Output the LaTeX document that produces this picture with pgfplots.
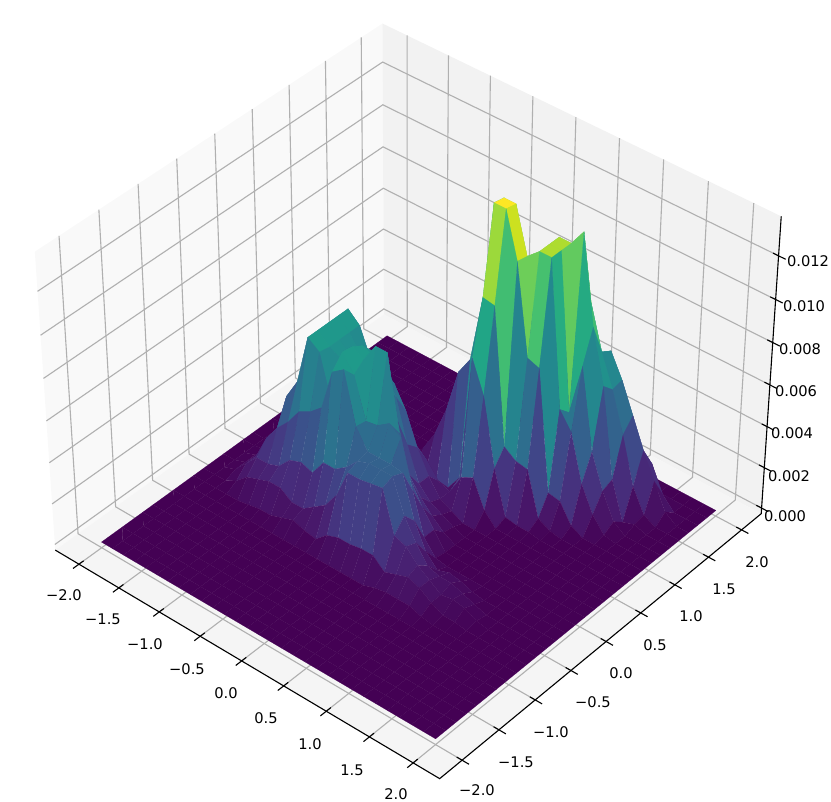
\documentclass[border=0pt]{standalone}
\usepackage{fontspec}
\setmainfont{DejaVu Sans}
\usepackage{pgfplots}
\pgfplotsset{compat=1.18}
\def\MS{0.7604}\def\MC{0.6494}\def\SE{0.629}\def\CE{0.777}
\def\SC{4325}\def\CX{410}\def\CY{387}
\definecolor{gridc}{rgb}{0.69,0.69,0.69}
\newcommand\pline[2]{\addplot[#1] table[row sep=\\,header=false,
 x expr={px(\thisrowno{0},\thisrowno{1},\thisrowno{2})},
 y expr={py(\thisrowno{0},\thisrowno{1},\thisrowno{2})}]{#2};}
\newcommand\lab[3]{\node[font=\fontsize{11}{13}\selectfont,inner sep=0pt,anchor=center] at (axis cs:#1,#2) {#3};}
\begin{document}
\begin{tikzpicture}
\begin{axis}[scale only axis,width=623.25pt,height=601.5pt,xmin=0,xmax=831,ymin=0,ymax=802,y dir=reverse,
 hide axis,clip=false,
 every axis plot/.append style={mark=none,forget plot},
 declare function={
  Tf(\x,\y)=0.2587*(\MC*\x-\MS*\y);
  Uf(\x,\y)=0.2587*(\MS*\x+\MC*\y);
  Zf(\z)=0.0063*(\z-67.5);
  Vf(\x,\y,\z)=-\SE*Tf(\x,\y)+\CE*Zf(\z);
  Df(\x,\y,\z)=10-(\CE*Tf(\x,\y)+\SE*Zf(\z));
  px(\x,\y,\z)=\CX+\SC*Uf(\x,\y)/Df(\x,\y,\z);
  py(\x,\y,\z)=\CY-\SC*Vf(\x,\y,\z)/Df(\x,\y,\z);
 }]
% panes
\pline{fill={rgb,1:red,0.975;green,0.975;blue,0.975},draw=none}{-2.3 -2.3 -2.8\\-2.3 2.3 -2.8\\-2.3 2.3 137.8\\-2.3 -2.3 137.8\\}
\pline{fill={rgb,1:red,0.95;green,0.95;blue,0.95},draw=none}{-2.3 2.3 -2.8\\2.3 2.3 -2.8\\2.3 2.3 137.8\\-2.3 2.3 137.8\\}
\pline{fill={rgb,1:red,0.9625;green,0.9625;blue,0.9625},draw=none}{-2.3 -2.3 -2.8\\2.3 -2.3 -2.8\\2.3 2.3 -2.8\\-2.3 2.3 -2.8\\}
% grid
\pgfplotsinvokeforeach{-2,-1.5,-1,-0.5,0,0.5,1,1.5,2}{
 \pline{gridc,line width=0.83pt}{#1 -2.3 -2.8\\#1 2.3 -2.8\\#1 2.3 137.8\\}
 \pline{gridc,line width=0.83pt}{2.3 #1 -2.8\\-2.3 #1 -2.8\\-2.3 #1 137.8\\}
}
\pgfplotsinvokeforeach{0,20,40,60,80,100,120}{
 \pline{gridc,line width=0.83pt}{2.3 2.3 #1\\-2.3 2.3 #1\\-2.3 -2.3 #1\\}
}
% surface: z in units of 1e-4, rows y=2..-2, columns x=-2..2
\addplot[surf,shader=faceted,faceted color={mapped color!98!white},line width=0.1pt,colormap/viridis,mesh/rows=30,mesh/cols=30,point meta=\thisrowno{0},point meta min=0,point meta max=134]
 table[row sep=\\,header=false,
 x expr={px(-2+mod(\coordindex,30)*4/29,-2+(29-floor(\coordindex/30))*4/29,\thisrowno{0})},
 y expr={py(-2+mod(\coordindex,30)*4/29,-2+(29-floor(\coordindex/30))*4/29,\thisrowno{0})}]{
0\\0\\0\\0\\0\\0\\0\\0\\0\\0\\0\\0\\0\\0\\0\\0\\0\\0\\0\\0\\0\\0\\0\\0\\0\\0\\0\\0\\0\\0\\
0\\0\\0\\0\\0\\0\\0\\0\\0\\0\\0\\0\\0\\0\\0\\3\\6\\10\\12\\12\\12\\10\\8\\5\\2\\0\\0\\0\\0\\0\\
0\\0\\0\\0\\0\\0\\0\\0\\0\\0\\0\\0\\0\\0\\5\\12\\22\\32\\40\\40\\40\\35\\30\\25\\20\\18\\6\\0\\0\\0\\
0\\0\\0\\0\\0\\0\\0\\0\\0\\0\\0\\0\\0\\6\\15\\30\\45\\60\\65\\70\\70\\63\\67\\56\\42\\28\\16\\4\\0\\0\\
0\\0\\0\\0\\0\\0\\0\\0\\0\\0\\0\\0\\0\\15\\30\\50\\70\\80\\80\\90\\95\\90\\70\\55\\36\\14\\3\\0\\0\\0\\
0\\0\\0\\0\\0\\0\\0\\0\\0\\0\\0\\0\\6\\25\\45\\60\\90\\90\\90\\118\\118\\126\\85\\60\\18\\0\\2\\0\\0\\0\\
0\\0\\0\\0\\0\\0\\0\\0\\0\\0\\0\\1\\10\\34\\50\\70\\100\\90\\85\\118\\118\\45\\70\\32\\16\\4\\0\\0\\0\\0\\
0\\0\\0\\0\\0\\0\\0\\0\\0\\0\\0\\4\\16\\36\\50\\70\\134\\134\\113\\118\\118\\50\\42\\20\\8\\1\\0\\0\\0\\0\\
0\\0\\0\\0\\0\\0\\0\\0\\0\\0\\0\\6\\14\\30\\50\\58\\135\\135\\114\\72\\70\\13\\12\\3\\0\\0\\0\\0\\0\\0\\
0\\0\\0\\0\\0\\0\\0\\0\\0\\0\\0\\8\\18\\33\\54\\63\\95\\94\\30\\26\\25\\4\\1\\0\\0\\0\\0\\0\\0\\0\\
0\\0\\0\\0\\0\\0\\0\\0\\0\\0\\0\\1\\2\\2\\1\\9\\70\\55\\23\\2\\1\\1\\0\\0\\0\\0\\0\\0\\0\\0\\
0\\0\\0\\0\\3\\10\\22\\30\\28\\20\\20\\25\\20\\15\\8\\6\\16\\19\\6\\0\\0\\0\\0\\0\\0\\0\\0\\0\\0\\0\\
0\\0\\0\\2\\10\\28\\50\\74\\69\\55\\50\\50\\40\\25\\14\\6\\3\\0\\0\\0\\0\\0\\0\\0\\0\\0\\0\\0\\0\\0\\
0\\0\\0\\3\\14\\32\\54\\74\\69\\61\\66\\60\\50\\30\\14\\8\\5\\2\\0\\0\\0\\0\\0\\0\\0\\0\\0\\0\\0\\0\\
0\\0\\0\\3\\16\\36\\56\\74\\69\\64\\72\\70\\60\\45\\22\\14\\8\\3\\0\\0\\0\\0\\0\\0\\0\\0\\0\\0\\0\\0\\
0\\0\\1\\5\\18\\38\\58\\74\\69\\66\\75\\72\\81\\81\\46\\26\\16\\8\\0\\0\\0\\0\\0\\0\\0\\0\\0\\0\\0\\0\\
0\\0\\2\\7\\20\\40\\50\\74\\70\\49\\76\\68\\49\\50\\54\\50\\28\\8\\1\\0\\0\\0\\0\\0\\0\\0\\0\\0\\0\\0\\
0\\0\\2\\8\\20\\28\\34\\42\\45\\50\\70\\74\\50\\41\\41\\41\\40\\20\\8\\2\\4\\3\\1\\0\\0\\0\\0\\0\\0\\0\\
0\\0\\2\\8\\14\\14\\16\\22\\24\\22\\30\\30\\34\\40\\42\\42\\42\\26\\16\\8\\6\\6\\4\\2\\0\\0\\0\\0\\0\\0\\
0\\0\\0\\3\\8\\10\\12\\12\\8\\8\\12\\16\\24\\38\\38\\39\\40\\20\\18\\12\\8\\4\\5\\4\\1\\0\\0\\0\\0\\0\\
0\\0\\0\\0\\0\\1\\2\\2\\4\\6\\4\\3\\8\\10\\10\\11\\11\\6\\8\\10\\8\\4\\1\\1\\0\\0\\0\\0\\0\\0\\
0\\0\\0\\0\\0\\0\\0\\0\\0\\0\\0\\0\\0\\0\\0\\0\\0\\2\\3\\3\\3\\1\\0\\0\\0\\0\\0\\0\\0\\0\\
0\\0\\0\\0\\0\\0\\0\\0\\0\\0\\0\\0\\0\\0\\0\\0\\0\\0\\0\\0\\0\\0\\0\\0\\0\\0\\0\\0\\0\\0\\
0\\0\\0\\0\\0\\0\\0\\0\\0\\0\\0\\0\\0\\0\\0\\0\\0\\0\\0\\0\\0\\0\\0\\0\\0\\0\\0\\0\\0\\0\\
0\\0\\0\\0\\0\\0\\0\\0\\0\\0\\0\\0\\0\\0\\0\\0\\0\\0\\0\\0\\0\\0\\0\\0\\0\\0\\0\\0\\0\\0\\
0\\0\\0\\0\\0\\0\\0\\0\\0\\0\\0\\0\\0\\0\\0\\0\\0\\0\\0\\0\\0\\0\\0\\0\\0\\0\\0\\0\\0\\0\\
0\\0\\0\\0\\0\\0\\0\\0\\0\\0\\0\\0\\0\\0\\0\\0\\0\\0\\0\\0\\0\\0\\0\\0\\0\\0\\0\\0\\0\\0\\
0\\0\\0\\0\\0\\0\\0\\0\\0\\0\\0\\0\\0\\0\\0\\0\\0\\0\\0\\0\\0\\0\\0\\0\\0\\0\\0\\0\\0\\0\\
0\\0\\0\\0\\0\\0\\0\\0\\0\\0\\0\\0\\0\\0\\0\\0\\0\\0\\0\\0\\0\\0\\0\\0\\0\\0\\0\\0\\0\\0\\
0\\0\\0\\0\\0\\0\\0\\0\\0\\0\\0\\0\\0\\0\\0\\0\\0\\0\\0\\0\\0\\0\\0\\0\\0\\0\\0\\0\\0\\0\\
};
% spines and ticks
\pline{black,line width=0.83pt}{-2.3 -2.3 -2.8\\2.3 -2.3 -2.8\\2.3 2.3 -2.8\\2.3 2.3 137.8\\}
\pgfplotsinvokeforeach{-2,-1.5,-1,-0.5,0,0.5,1,1.5,2}{
 \pline{black,line width=0.83pt}{#1 -2.378 -2.8\\#1 -2.239 -2.8\\}
 \pline{black,line width=0.83pt}{2.378 #1 -2.8\\2.239 #1 -2.8\\}
}
\pgfplotsinvokeforeach{0,20,40,60,80,100,120}{
 \pline{black,line width=0.83pt}{2.378 2.3 #1\\2.239 2.3 #1\\}
}
\lab{64}{595}{−2.0}\lab{103}{619}{−1.5}\lab{145}{644}{−1.0}\lab{187}{669}{−0.5}\lab{226}{693}{0.0}\lab{266}{718}{0.5}\lab{310}{744}{1.0}\lab{352}{770}{1.5}\lab{396}{794}{2.0}
\lab{477}{790}{−2.0}\lab{516}{762}{−1.5}\lab{551}{732}{−1.0}\lab{593}{702}{−0.5}\lab{621}{673}{0.0}\lab{655}{645}{0.5}\lab{691}{616}{1.0}\lab{724}{589}{1.5}\lab{757}{562}{2.0}
\lab{785}{516}{0.000}\lab{789}{476}{0.002}\lab{792}{433}{0.004}\lab{796}{391}{0.006}\lab{800}{349}{0.008}\lab{804}{306}{0.010}\lab{808}{261}{0.012}
\end{axis}
\pgfresetboundingbox
\path (0,0) rectangle (623.25pt,601.5pt);
\end{tikzpicture}
\end{document}
